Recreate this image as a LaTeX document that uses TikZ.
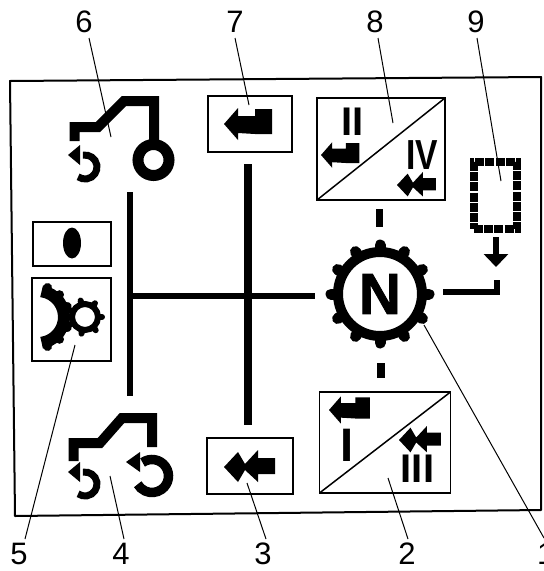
\documentclass[tikz,border=0pt]{standalone}
\usepackage{fontspec}
\setmainfont{Liberation Sans}
\newfontfamily\heavyfont[FakeBold=1.5]{Liberation Sans Bold}
\usetikzlibrary{arrows.meta,positioning}
\tikzset{
  plate/.style={draw,line width=1.5pt,inner sep=0pt,outer sep=0pt},
  lead/.style={line width=1pt},
  bus/.style={line width=6pt},
  num/.style={font=\fontsize{31}{31}\selectfont,inner sep=0pt},
  roman/.style={font=\fontsize{40}{40}\selectfont\bfseries,inner sep=0pt},
  hull/.style={line width=10pt,miter limit=2},
  tooth/.style={line width=9pt,line cap=round},
  % --- arrow glyphs, drawn with the tip at the origin
  pics/oneshaft/.style={code={
    \fill (0,0)--(14,-16)--(14,-8)--(31,-8)--(31,-15)--(48,-15)--(48,10)--(31,10)--(14,9)--(14,16)--cycle;}},
  pics/twoshaft/.style={code={
    \fill (0,0)--(14,-15)--(21,-3)--(34,-17)--(34,-9)--(51,-9)--(51,7)--(34,7)--(34,15)--(21,3)--(14,15)--cycle;}},
  pics/turnsmall/.style={code={
    \draw[line width=7pt] (-100:12) arc[start angle=-100,end angle=125,radius=12];
    \fill (-17,-12)--(-5,-22)--(-5,-2)--cycle;}},
}
\begin{document}
\begin{tikzpicture}[x=1pt,y=-1pt]
  \useasboundingbox (0,0) rectangle (544,571);
  \clip (0,0) rectangle (544,571);
  \fill[white] (0,0) rectangle (544,571);
  \draw[line width=2pt,line join=round] (10,81)--(541,77)--(541,510)--(15,516)--cycle;
  % plates
  \node[plate,minimum width=84,minimum height=56] (box7) at (250,124){};
  \node[plate,minimum width=86,minimum height=56] (box3) at (250,466){};
  \node[plate,minimum width=128,minimum height=102] (box8) at (381,149){};
  \node[plate,minimum width=131,minimum height=101] (box2) at (385,442.5){};
  \node[plate,minimum width=78,minimum height=44] (box0) at (72,244){};
  \node[plate,minimum width=79,minimum height=83] (box5) at (71.5,319.5){};
  \draw[line width=1.5pt] (box8.south west) -- (box8.north east);
  \draw[line width=1.5pt] (box2.south west) -- (box2.north east);
  \fill (72,243) ellipse[x radius=9,y radius=15.5];
  % arrows in the plates
  \pic at (224,124) {oneshaft};
  \pic at (224,467) {twoshaft};
  \pic[scale=.8] at (321,155) {oneshaft};
  \pic[scale=.85] at (329,410) {oneshaft};
  \pic[scale=.76] at (397,185) {twoshaft};
  \pic[scale=.82] at (399,440) {twoshaft};
  \node[roman] (nII) at (352.5,122){II};
  \node[roman,font=\fontsize{42}{42}\selectfont\bfseries,xscale=.8] (nIV) at (422.5,155){IV};
  \node[roman,font=\fontsize{47}{47}\selectfont\bfseries] (nI) at (347,445){I};
  \node[roman] (nIII) at (417.5,469){III};
  % small and big gear of plate 5
  \begin{scope}[shift={(38,317)}]
    \draw[line width=12pt] (-82:26) arc[start angle=-82,end angle=82,radius=26];
    \foreach \a in {-72,-46,-20,20,46,72} \draw[tooth] (\a:28) -- (\a:31);
  \end{scope}
  \begin{scope}[shift={(85,317)}]
    \draw[line width=6pt] (0,0) circle[radius=13];
    \foreach \a in {0,51,...,308} \draw[tooth,line width=6pt] (\a:14) -- (\a:17);
  \end{scope}
  % upper tractor
  \draw[hull] (74.5,141)--(74.5,127)--(98,127)--(124,101)--(154,101)--(154,141);
  \draw[line width=11pt] (153.5,160) circle[radius=15.5];
  \pic at (85,167) {turnsmall};
  % lower tractor
  \draw[hull] (73.5,461)--(73.5,443)--(100,443)--(122,418)--(152,418)--(152,447);
  \pic at (85,484) {turnsmall};
  \draw[line width=9.5pt] (-125:16.5)++(152,476) arc[start angle=-125,end angle=150,radius=16.5];
  \fill (126,462)--(140,452)--(140,472)--cycle;
  % main wheel
  \coordinate (hub) at (380,294);
  \begin{scope}[shift={(hub)}]
    \foreach \a in {0,30,...,330} \draw[tooth,line width=11pt] (\a:44) -- (\a:49);
    \draw[line width=10pt] (0,0) circle[radius=42];
  \end{scope}
  \node[font=\fontsize{58}{58}\heavyfont,inner sep=0pt] (nN) at (hub){N};
  % lines between the plates
  \coordinate (a1) at (130,192); \coordinate (a2) at (130,396);
  \coordinate (b1) at (248,164); \coordinate (b2) at (248,425);
  \coordinate (c1) at (130,295.5); \coordinate (c2) at (315,295.5);
  \coordinate (d1) at (379,209); \coordinate (d2) at (379,227);
  \coordinate (e1) at (381,363); \coordinate (e2) at (381,378);
  \coordinate (f1) at (443,292); \coordinate (f2) at (497,292); \coordinate (f3) at (497,280);
  \draw[bus] (a1) -- (a2);
  \draw[bus,line width=7.5pt] (b1) -- (b2);
  \draw[bus] (c1) -- (c2);
  \draw[bus,line width=7pt] (d1) -- (d2);
  \draw[bus,line width=8pt] (e1) -- (e2);
  \draw[bus] (f1) -- (f2) -- (f3);
  % dashed unit and its arrow
  \node[draw,line width=7.5pt,dash pattern=on 9pt off 1.2pt,inner sep=0pt,outer sep=0pt,
    minimum width=43,minimum height=67] (box9) at (495.5,195.5){};
  \coordinate (g1) at (496,237); \coordinate (g2) at (496,267);
  \draw[line width=6pt,-{Triangle[length=13pt,width=24pt]}] (g1) -- (g2);
  % numbers and their leaders
  \node[num] (n6) at (84,22){6};
  \node[num] (n7) at (235,22){7};
  \node[num] (n8) at (375,22){8};
  \node[num] (n9) at (476,22){9};
  \node[num] (n5) at (19,554){5};
  \node[num] (n4) at (121,554){4};
  \node[num] (n3) at (263,554){3};
  \node[num] (n2) at (407,554){2};
  \node[num,anchor=west] (n1) at (537,554){1};
  \coordinate (t6) at (111,137); \coordinate (t7) at (249,105);
  \coordinate (t8) at (393,123); \coordinate (t9) at (501,181);
  \coordinate (t5) at (75,345); \coordinate (t4) at (110,476);
  \coordinate (t3) at (247,483); \coordinate (t2) at (388,478);
  \coordinate (t1) at (424,325); \coordinate (s1) at (544,538);
  \draw[lead] (89,38) -- (t6);
  \draw[lead] (235,38) -- (t7);
  \draw[lead] (378,38) -- (t8);
  \draw[lead] (477,38) -- (t9);
  \draw[lead] (25,539) -- (t5);
  \draw[lead] (124,539) -- (t4);
  \draw[lead] (266,539) -- (t3);
  \draw[lead] (408,539) -- (t2);
  \draw[lead] (s1) -- (t1);
\end{tikzpicture}
\end{document}
